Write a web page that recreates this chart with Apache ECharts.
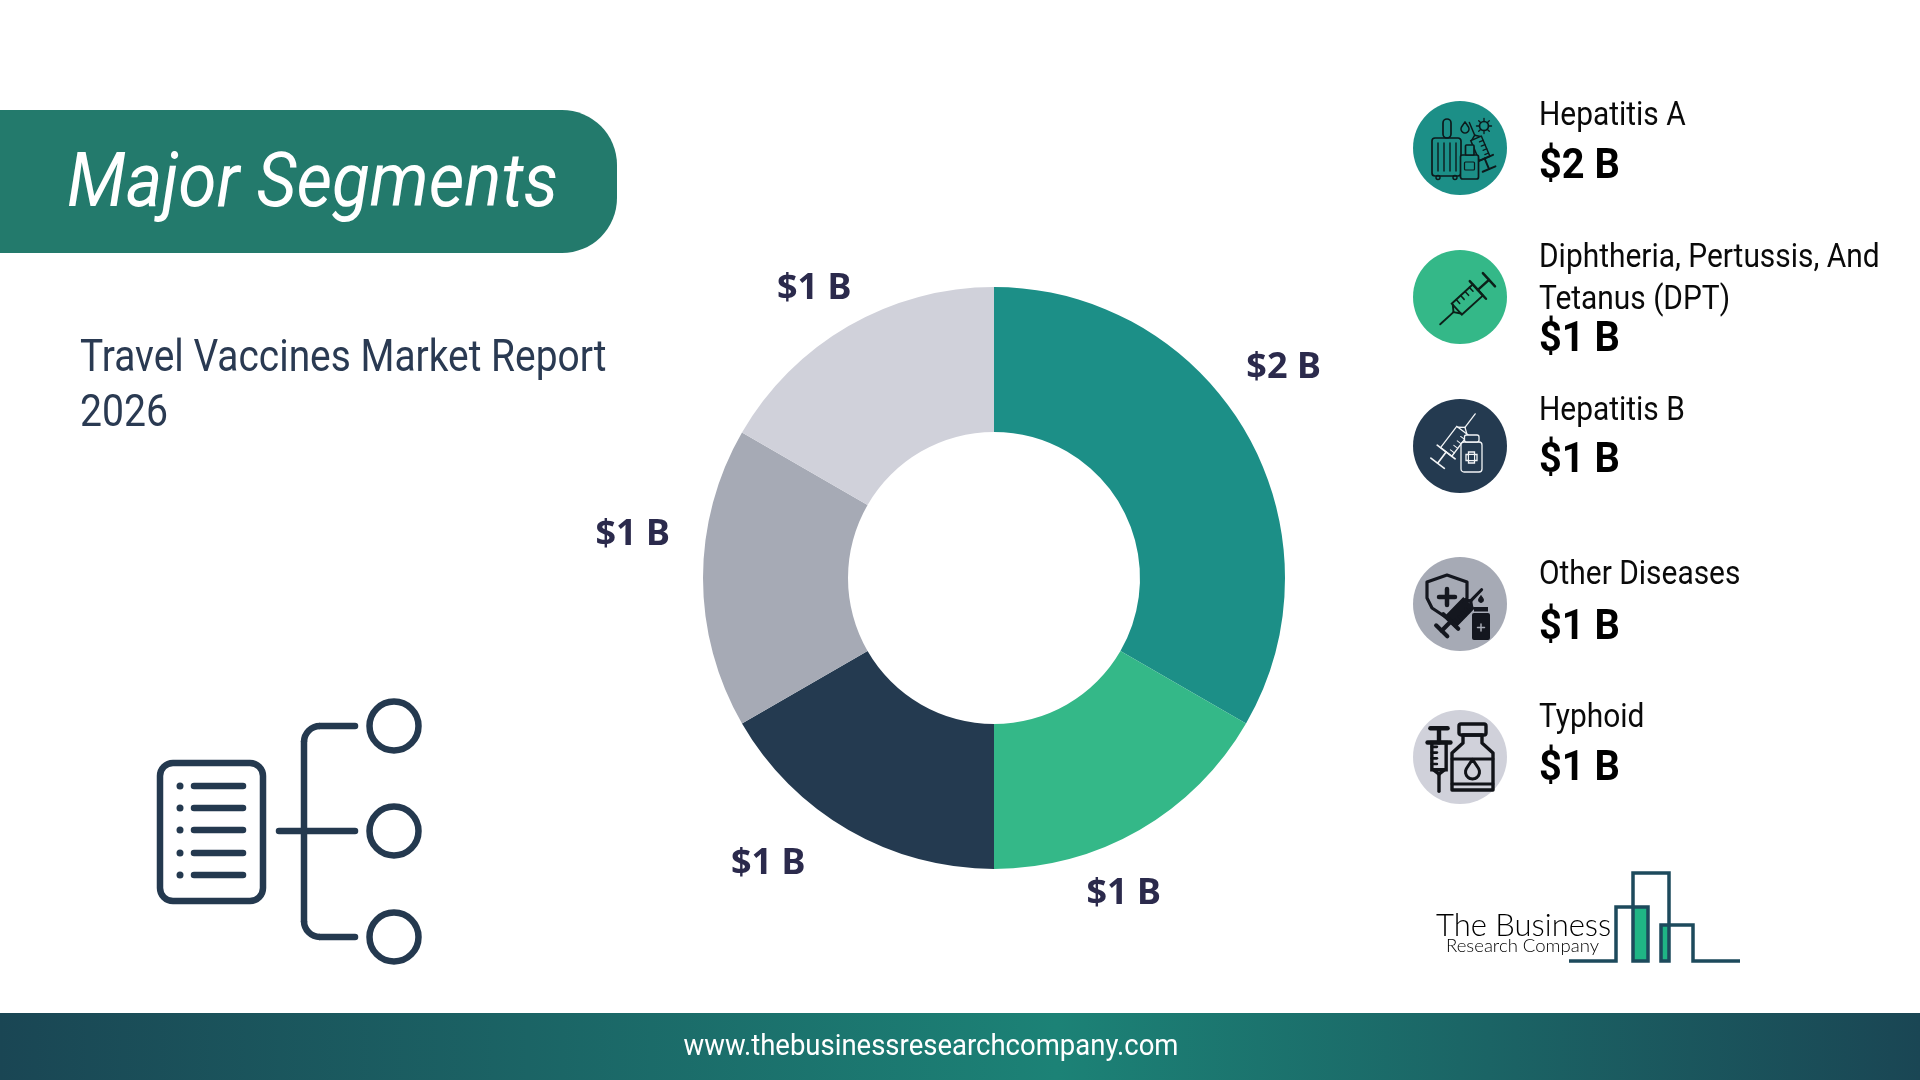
<!DOCTYPE html>
<html>
<head>
<meta charset="utf-8">
<title>Travel Vaccines Market Report 2026</title>
<script src="https://cdn.jsdelivr.net/npm/echarts@6/dist/echarts.min.js"></script>
<style>
  html, body { margin: 0; padding: 0; background: #fff; }
  #main { width: 1920px; height: 1080px; }
</style>
</head>
<body>
<div id="main"></div>
<script>
const segmentNames = ["Hepatitis A", "Diphtheria, Pertussis, And\nTetanus (DPT)", "Hepatitis B", "Other Diseases", "Typhoid"];
const segmentValues = [2, 1, 1, 1, 1];
const sliceColors = ["#1c8f87", "#34b888", "#243a50", "#a6aab5", "#d0d1da"];
const reportTitle = ["Travel Vaccines Market Report", "2026"];
const siteUrl = "www.thebusinessresearchcompany.com";

const money = (v) => "$" + v + " B";
const ink = "#24394f";

// nudges the outside labels to where the reference has them
const labelNudge = [[-22, -55], [-68, 46], [-28, 16], [-8, -43], [18, -20]];
// side list rows: circle centre, name line centres, value centre
const rowCircleY = [148, 297, 446, 604, 757];
const rowNameY = [117, 259, 412, 576, 719];
const rowValueY = [167, 340, 461, 628, 769];

function txt(text, x, y, font, fill, scaleX, align) {
  return {
    type: "text", x: x, y: y, scaleX: scaleX || 1,
    style: { text: text, x: 0, y: 0, font: font, fill: fill, textAlign: align || "left", textVerticalAlign: "middle" },
  };
}
function line(x1, y1, x2, y2, color, w) {
  return { type: "line", shape: { x1, y1, x2, y2 }, style: { stroke: color, lineWidth: w, lineCap: "round" } };
}
function box(x, y, width, height, r, stroke, w, fill) {
  return { type: "rect", shape: { x, y, width, height, r: r }, style: { stroke: stroke, lineWidth: w, fill: fill || "transparent" } };
}
function ring(cx, cy, r, stroke, w, fill) {
  return { type: "circle", shape: { cx, cy, r }, style: { stroke: stroke, lineWidth: w, fill: fill || "transparent" } };
}
function corner(cx, cy, r, a0, a1, color, w) {
  return { type: "arc", shape: { cx, cy, r, startAngle: a0, endAngle: a1, clockwise: true }, style: { stroke: color, lineWidth: w, fill: "none" } };
}
function drop(cx, cy, r, stroke, w, fill) {
  const pts = [[cx, cy - r * 1.8]];
  for (let d = -30; d <= 210; d += 20) {
    const a = (d * Math.PI) / 180;
    pts.push([cx + r * Math.cos(a), cy + r * Math.sin(a)]);
  }
  return { type: "polygon", shape: { points: pts }, style: { stroke: stroke, lineWidth: w, fill: fill || "transparent", lineJoin: "round" } };
}
// syringe drawn along x, needle towards -x
function syringe(cx, cy, rot, s, color, w, fill) {
  const kids = [
    line(-26 * s, 0, -14 * s, 0, color, w),
    line(-14 * s, 0, -11 * s, -4 * s, color, w),
    line(-14 * s, 0, -11 * s, 4 * s, color, w),
    box(-11 * s, -5 * s, 19 * s, 10 * s, 0, color, w, fill),
    line(8 * s, -8 * s, 8 * s, 8 * s, color, w * 1.3),
    line(8 * s, 0, 18 * s, 0, color, w * 1.3),
    line(18 * s, -6 * s, 18 * s, 6 * s, color, w * 1.3),
  ];
  [-7, -3, 1, 5].forEach((t) => kids.push(line(t * s, -5 * s, t * s, -1.5 * s, color, w * 0.8)));
  return { type: "group", x: cx, y: cy, rotation: rot, children: kids };
}

function iconTravel(k) {
  const kids = [
    box(-28, -10, 29, 38, 3, k, 1.7),
    box(-17, -29, 8, 19, 4, k, 1.7),
    line(-22, -5, -22, 23, k, 1.4), line(-16, -5, -16, 23, k, 1.4), line(-10, -5, -10, 23, k, 1.4), line(-4, -5, -4, 23, k, 1.4),
    ring(-22, 29.5, 2, k, 1.4), ring(-5, 29.5, 2, k, 1.4),
    syringe(21, 2, -1.17, 1.15, k, 1.5, sliceColors[0]),
    box(0.5, 7, 18, 24, 2, k, 1.7, sliceColors[0]),
    box(5.5, -3, 8.5, 10, 1, k, 1.7, sliceColors[0]),
    box(4.5, 14, 10, 8, 1, k, 1.2),
    drop(5, -19, 4, k, 1.5),
    ring(24, -22, 4.5, k, 1.7),
  ];
  [0, 1, 2, 3, 4, 5, 6, 7].forEach((i) => {
    const a = (i * Math.PI) / 4;
    kids.push(line(24 + 4.5 * Math.cos(a), -22 + 4.5 * Math.sin(a), 24 + 7.5 * Math.cos(a), -22 + 7.5 * Math.sin(a), k, 1.3));
  });
  return kids;
}
function iconNeedle(k) {
  return [syringe(9, 1, 0.74, 1.5, k, 1.9)];
}
function iconVial(c, bg) {
  return [
    syringe(-7, -3, 0.92 + Math.PI, 1.41, c, 1.3),
    box(1, -4, 21, 30, 3, c, 1.3, bg),
    box(4.5, -11, 14.5, 7, 2, c, 1.3, bg),
    box(8.5, 6, 6, 11, 0, c, 1.3), box(6, 8.5, 11, 6, 0, c, 1.3),
    { type: "rect", shape: { x: 9.1, y: 9.1, width: 4.8, height: 4.8 }, style: { fill: bg } },
  ];
}
function iconShield(k, bg) {
  return [
    { type: "polygon", shape: { points: [[-33, -22], [-13, -29], [7, -22], [7, -6], [2, 4], [-13, 14], [-28, 4], [-33, -6]] }, style: { stroke: k, lineWidth: 3.2, fill: "transparent", lineJoin: "round" } },
    line(-13, -15, -13, 1, k, 4.5), line(-21, -7, -5, -7, k, 4.5),
    syringe(-2, 10, 0.8 + Math.PI, 1.3, k, 3.2, k),
    { type: "rect", shape: { x: 12, y: 9, width: 18, height: 27, r: 2 }, style: { fill: k } },
    { type: "rect", shape: { x: 14, y: 3, width: 14, height: 4.5 }, style: { fill: k } },
    drop(21, -4, 2.5, k, 1, k),
    line(21, 20, 21, 27, bg, 1.5), line(17.5, 23.5, 24.5, 23.5, bg, 1.5),
  ];
}
function iconBottle(k) {
  return [
    syringe(-21, -3, Math.PI / 2, 1.43, k, 3.4),
    box(-1, -33, 27, 11, 2, k, 3.4),
    { type: "polygon", shape: { points: [[3, -22], [22, -22], [22, -14], [33, -4], [33, 33], [-8, 33], [-8, -4], [3, -14]] }, style: { stroke: k, lineWidth: 3.4, fill: "transparent", lineJoin: "round" } },
    line(-8, 2, 33, 2, k, 2.8), line(-8, 27, 33, 27, k, 2.8),
    drop(12.5, 15, 7, k, 3),
  ];
}

const rowIcons = [iconTravel("#0d1a1c"), iconNeedle("#0c1f18"), iconVial("#f2f4f6", sliceColors[2]), iconShield("#14171f", sliceColors[3]), iconBottle("#111318")];

const graphics = [];
// banner
graphics.push({ type: "rect", shape: { x: 0, y: 110, width: 617, height: 143, r: [0, 55, 55, 0] }, style: { fill: "#237a6c" } });
graphics.push(txt("Major Segments", 67, 187, "italic 400 75px Roboto", "#ffffff", 0.924));
graphics.push(txt(reportTitle[0], 80, 360, "400 44px Roboto", "#2a3a52", 0.884));
graphics.push(txt(reportTitle[1], 80, 415, "400 44px Roboto", "#2a3a52", 0.89));

// list icon bottom left
graphics.push(box(160, 763, 103, 138, 13, ink, 6.5));
[786, 808, 830, 853, 875].forEach((y) => {
  graphics.push(line(194, y, 243, y, ink, 6.5));
  graphics.push({ type: "circle", shape: { cx: 180, cy: y, r: 3.5 }, style: { fill: ink } });
});
graphics.push(line(279, 831, 355, 831, ink, 6.5));
graphics.push(line(320, 726, 355, 726, ink, 6.5));
graphics.push(line(304, 742, 304, 921, ink, 6.5));
graphics.push(line(320, 937, 355, 937, ink, 6.5));
graphics.push(corner(320, 742, 16, Math.PI, Math.PI * 1.5, ink, 6.5));
graphics.push(corner(320, 921, 16, Math.PI * 0.5, Math.PI, ink, 6.5));
[726, 831, 937].forEach((y) => graphics.push(ring(394, y, 24.5, ink, 6.5)));

// side list
segmentNames.forEach((name, i) => {
  graphics.push({ type: "circle", shape: { cx: 1460, cy: rowCircleY[i], r: 47 }, style: { fill: sliceColors[i] } });
  graphics.push({ type: "group", x: 1460, y: rowCircleY[i], children: rowIcons[i] });
  name.split("\n").forEach((part, j) => {
    graphics.push(txt(part, 1539, rowNameY[i] + j * 42, "400 33px Roboto", "#0a0a0a", 0.906));
  });
  graphics.push(txt(money(segmentValues[i]), 1539, rowValueY[i], "700 43px Roboto", "#000000", 0.925));
});

// logo
const logoLine = "#1d4a5c";
graphics.push({ type: "rect", shape: { x: 1633, y: 907, width: 15, height: 54 }, style: { fill: "#1fb585" } });
graphics.push({ type: "rect", shape: { x: 1661, y: 925, width: 8, height: 36 }, style: { fill: "#1fb585" } });
graphics.push({
  type: "polyline",
  shape: { points: [[1569, 961], [1616, 961], [1616, 907], [1648, 907], [1648, 961], [1633, 961], [1633, 873], [1669, 873], [1669, 961], [1661, 961], [1661, 925], [1693, 925], [1693, 961], [1740, 961]] },
  style: { stroke: logoLine, lineWidth: 3.5, fill: "none" },
});
graphics.push(txt("The Business", 1436, 926, "300 31px Lato", "#000000", 1));
graphics.push(txt("Research Company", 1446, 946, "300 18px Lato", "#000000", 1.03));

// footer
graphics.push({
  type: "rect", shape: { x: 0, y: 1013, width: 1920, height: 67 },
  style: {
    fill: {
      type: "linear", x: 0, y: 0, x2: 1, y2: 0,
      colorStops: [{ offset: 0, color: "#1a4654" }, { offset: 0.55, color: "#1c8276" }, { offset: 1, color: "#1a4654" }],
    },
  },
});
graphics.push(txt(siteUrl, 931, 1047, "400 30px Roboto", "#ffffff", 0.917, "center"));

const chart = echarts.init(document.getElementById("main"));
chart.setOption({
  animation: false,
  backgroundColor: "#ffffff",
  graphic: { elements: graphics },
  series: [
    {
      type: "pie",
      center: [994, 578],
      radius: [146, 291],
      startAngle: 90,
      clockwise: true,
      avoidLabelOverlap: false,
      silent: true,
      data: segmentValues.map((v, i) => ({ name: segmentNames[i], value: v, itemStyle: { color: sliceColors[i] } })),
      label: {
        show: true,
        position: "outside",
        formatter: (p) => money(p.value),
        fontFamily: "Noto Sans",
        fontWeight: 700,
        fontSize: 36,
        color: "#2b2a4c",
      },
      labelLine: { show: false, length: 20, length2: 0 },
      labelLayout: (p) => ({ dx: labelNudge[p.dataIndex][0], dy: labelNudge[p.dataIndex][1] }),
    },
  ],
});
</script>
</body>
</html>
